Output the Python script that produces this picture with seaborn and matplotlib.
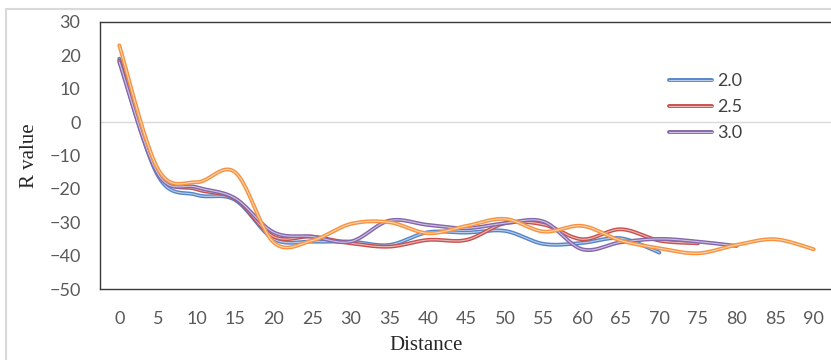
import numpy as np
import pandas as pd
import matplotlib
matplotlib.use("Agg")
import matplotlib.pyplot as plt
import matplotlib.patheffects as pe
from matplotlib.patches import Rectangle
from matplotlib.lines import Line2D
import seaborn as sns

# ---- data ----
distance = list(range(0, 95, 5))
r_20 = [19, -16, -21.8, -23.3, -35, -35.8, -35.8, -36.8, -33, -33.1, -32.6, -36.5, -36.2, -34.8, -39.1]
r_25 = [18.5, -15, -20.1, -23, -34.3, -34.3, -36.3, -37.3, -35.3, -35.3, -30.3, -30.7, -35.1, -32.1, -35.5, -36.3]
r_30 = [18, -15.5, -19.5, -22.8, -33, -34.3, -35.8, -29.5, -30.8, -31.8, -30.3, -29.8, -38.1, -36, -35, -35.8, -37.1]
r_other = [23, -14, -18, -15, -36, -35.5, -30.5, -30, -33.3, -31.1, -29, -32.8, -31.1, -35.5, -37.8, -39.3, -36.8, -35.1, -38.1]
series_names = ["2.0", "2.5", "3.0", "other"]
legend_names = ["2.0", "2.5", "3.0"]
series_values = [r_20, r_25, r_30, r_other]
colors = ["#5585c9", "#c8504d", "#8466ac", "#f7923f"]


def smooth(xs, ys, n=24):
    """Excel-style smoothed line: Catmull-Rom Bezier through the given points."""
    P = np.column_stack([xs, ys]).astype(float)
    P_ext = np.vstack([P[0], P, P[-1]])
    out = [P[0]]
    t = np.linspace(0, 1, n + 1)[1:, None]
    for i in range(len(P) - 1):
        p0, p1 = P_ext[i + 1], P_ext[i + 2]
        c1 = p0 + (P_ext[i + 2] - P_ext[i]) / 6.0
        c2 = p1 - (P_ext[i + 3] - P_ext[i + 1]) / 6.0
        seg = ((1 - t) ** 3) * p0 + 3 * ((1 - t) ** 2) * t * c1 + 3 * (1 - t) * t ** 2 * c2 + t ** 3 * p1
        out.extend(seg)
    out = np.array(out)
    return out[:, 0], out[:, 1]


frames = []
for name, vals in zip(series_names, series_values):
    sx, sy = smooth(distance[:len(vals)], vals)
    frames.append(pd.DataFrame({"Distance": sx, "R value": sy, "series": name}))
df = pd.concat(frames, ignore_index=True)

sns.set_theme(style="white")
plt.rcParams["font.family"] = ["Lato", "DejaVu Sans"]

W, H = 831, 360
fig = plt.figure(figsize=(W / 100, H / 100), dpi=100)
fig.patch.set_facecolor("white")
ax = fig.add_axes([100 / W, 1 - 289 / H, 733 / W, 267 / H])

sns.lineplot(data=df, x="Distance", y="R value", hue="series", hue_order=series_names,
             palette=dict(zip(series_names, colors)), sort=False, estimator=None,
             units="series", legend=False, ax=ax, linewidth=2.8)


def lighten(c, f=0.55):
    r, g, b = matplotlib.colors.to_rgb(c)
    return (r + (1 - r) * f, g + (1 - g) * f, b + (1 - b) * f)


for line, c in zip(ax.lines, colors):
    line.set_color(lighten(c, 0.6))
    line.set_linewidth(0.8)
    line.set_path_effects([pe.Stroke(linewidth=2.8, foreground=c), pe.Normal()])
    line.set_solid_capstyle("round")

ax.axhline(0, color="#d9d9d9", lw=1.0, zorder=0.5)

ax.set_xlim(-2.5, 92.5)
ax.set_ylim(-50, 30)
ax.set_xticks(distance)
ax.set_yticks(list(range(-50, 31, 10)))
ax.tick_params(axis="both", length=0, labelsize=13, labelcolor="#595959")
ax.tick_params(axis="y", pad=14)
ax.tick_params(axis="x", pad=16)
for s in ax.spines.values():
    s.set_color("#3a3a3a")
    s.set_linewidth(1.0)

ax.set_xlabel("Distance", family=["Liberation Serif", "DejaVu Serif"], fontsize=15, color="#262626")
ax.set_ylabel("R value", family=["Liberation Serif", "DejaVu Serif"], fontsize=15, color="#262626")
ax.xaxis.label.set_va("center")
ax.yaxis.label.set_va("center")
ax.xaxis.set_label_coords((426 - 100) / 733, -(345 - 289) / 267)
ax.yaxis.set_label_coords(-(100 - 30) / 733, 0.5)

handles = [Line2D([], [], color=lighten(c, 0.6), lw=0.8,
                  path_effects=[pe.Stroke(linewidth=2.8, foreground=c), pe.Normal()])
           for c in colors[:3]]
leg = ax.legend(handles, legend_names, loc="upper left", bbox_to_anchor=(669 / W, 1 - 73 / H),
                bbox_transform=fig.transFigure, frameon=False, fontsize=13, handlelength=2.4,
                handletextpad=0.25, labelspacing=0.55, borderpad=0, borderaxespad=0)
for t in leg.get_texts():
    t.set_color("#404040")

fig.patches.append(Rectangle((6 / W, -0.1), 1.2, 1.1 - 9.5 / H, transform=fig.transFigure,
                             fill=False, edgecolor="#d9d9d9", lw=1.5))

fig.savefig("out.png", dpi=100)
